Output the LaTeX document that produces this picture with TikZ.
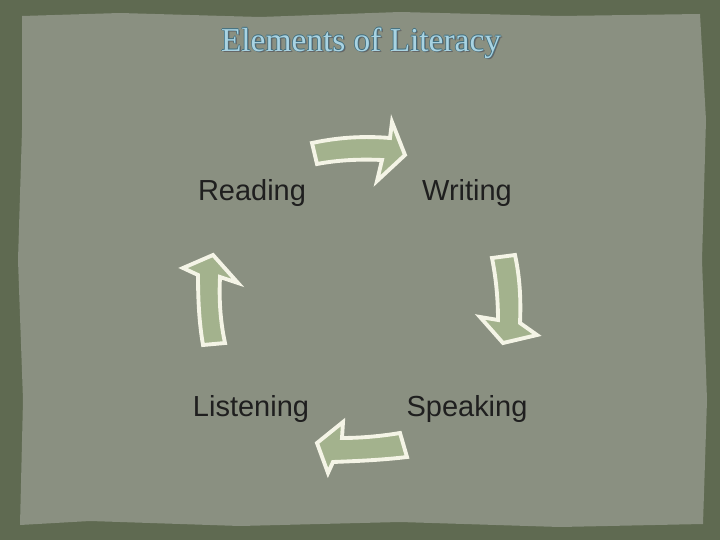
\documentclass[tikz,border=0pt]{standalone}
\usepackage{fontspec}
\setmainfont{Liberation Serif}
\newfontfamily\labelfont{Liberation Sans}
\usetikzlibrary{positioning}
\definecolor{frame}{HTML}{5F6A51}
\definecolor{panel}{HTML}{8A9081}
\definecolor{arrowfill}{HTML}{A3B28D}
\definecolor{arrowrim}{HTML}{F4F4E6}
\definecolor{titlefill}{HTML}{A9D3E2}
\definecolor{titlerim}{HTML}{3F6F80}
\tikzset{
	cyclearrow/.style={fill=arrowfill, draw=arrowrim, line width=2.2pt, line join=miter},
	element/.style={font=\labelfont\fontsize{16.5}{19}\selectfont, text=black!88},
	titletext/.style={font=\fontsize{19}{22}\selectfont, inner sep=0pt}
}

\begin{document}
\begin{tikzpicture}[x=0.02cm, y=-0.02cm]
	\useasboundingbox (0,0) rectangle (720,540);
	\fill[frame] (0,0) rectangle (720,540);
	% torn inner panel
	\fill[panel] (22,16) -- (120,13) -- (260,17) -- (400,12) -- (560,16) -- (700,14)
		-- (706,120) -- (702,260) -- (707,400) -- (703,524)
		-- (560,527) -- (400,522) -- (240,526) -- (90,521) -- (20,525)
		-- (23,400) -- (18,260) -- (22,130) -- cycle;

	% title with rim and shadow
	\node[titletext, text=black!60] at (362.5,44.5) {Elements of Literacy};
	\foreach \dx/\dy in {-0.7/0, 0.7/0, 0/-0.7, 0/0.7}
		\node[titletext, text=titlerim] at (361+\dx,43+\dy) {Elements of Literacy};
	\node[titletext, text=titlefill] (title) at (361,43) {Elements of Literacy};

	% the four elements
	\node[element] (reading) at (252,193) {Reading};
	\node[element] (writing) at (467,193) {Writing};
	\node[element] (speaking) at (467,409) {Speaking};
	\node[element] (listening) at (251,409) {Listening};

	% cycle arrows
	\filldraw[cyclearrow] (312,143) .. controls (340,137) and (365,136) .. (390,138)
		-- (392,122) -- (405,155) -- (377,181) -- (382,160)
		.. controls (360,159) and (338,160) .. (317,164) -- cycle;
	\filldraw[cyclearrow] (492,258) -- (515,255) .. controls (520,278) and (521,300) .. (520,323)
		-- (537,335) -- (503,343) -- (480,317) -- (498,320)
		.. controls (498,298) and (496,278) .. (492,258) -- cycle;
	\filldraw[cyclearrow] (400,433) -- (407,457) .. controls (382,460) and (358,461) .. (333,462)
		-- (328,473) -- (317,443) -- (343,422) -- (342,438)
		.. controls (362,438) and (382,436) .. (400,433) -- cycle;
	\filldraw[cyclearrow] (203,345) -- (225,343) .. controls (220,320) and (219,298) .. (220,277)
		-- (238,283) -- (213,255) -- (183,268) -- (198,275)
		.. controls (198,298) and (199,322) .. (203,345) -- cycle;
\end{tikzpicture}
\end{document}
